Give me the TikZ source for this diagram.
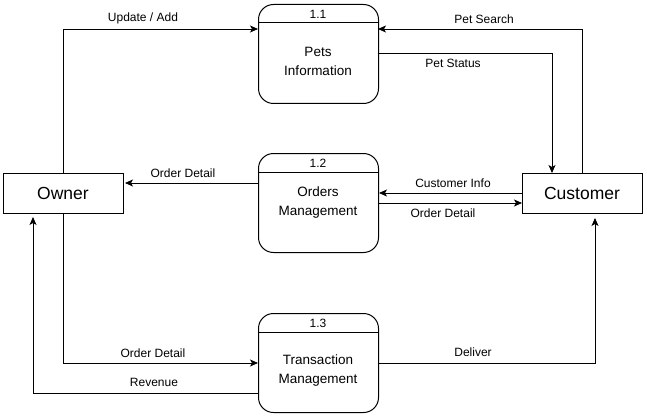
\documentclass[tikz,border=0pt]{standalone}
\usepackage{fontspec}
\setmainfont{Liberation Sans}
\usetikzlibrary{arrows.meta}
\tikzset{
  proc/.style={draw, line width=1pt, rounded corners=15pt, minimum width=120pt, minimum height=99pt, inner sep=0pt},
  ent/.style={draw, line width=0.8pt, minimum width=120pt, minimum height=40pt, inner sep=0pt, font=\fontsize{17.5}{20}\selectfont},
  ptext/.style={align=center, font=\fontsize{13.5}{19}\selectfont},
  lbl/.style={font=\fontsize{12}{14}\selectfont, inner sep=0pt},
  flow/.style={line width=0.8pt, -{Stealth[length=8pt,width=7pt,inset=2pt]}},
}
\begin{document}
\begin{tikzpicture}[x=1pt,y=-1pt]
\useasboundingbox (0,0) rectangle (647,417);
% processes
\foreach \n/\y/\num in {p1/4/1.1, p2/153/1.2, p3/313/1.3}{
  \node[proc, anchor=north west] (\n) at (258,\y) {};
  \draw[line width=1pt] (258,\y+19) -- (378,\y+19);
  \node[lbl] (\n num) at (318,\y+10) {\num};
}
\node[ptext] (p1t) at (318,61) {Pets\\Information};
\node[ptext] (p2t) at (318,203) {Orders\\Management};
\node[ptext] (p3t) at (318,371) {Transaction\\Management};
% entities
\node[ent] (own) at (63,193) {Owner};
\node[ent] (cus) at (582,193) {Customer};
% coordinates
\coordinate (c1) at (63,29);
\coordinate (c1e) at (258,29);
\coordinate (c2) at (582,29);
\coordinate (c2e) at (378,29);
\coordinate (c3s) at (378,53);
\coordinate (c3) at (552,53);
\coordinate (c3e) at (552,173);
\coordinate (c4s) at (258,183);
\coordinate (c4e) at (125,183);
\coordinate (c5s) at (522,193);
\coordinate (c5e) at (379,193);
\coordinate (c6s) at (378,203);
\coordinate (c6e) at (522,203);
\coordinate (c7) at (63,363);
\coordinate (c7e) at (258,363);
\coordinate (c8s) at (258,393);
\coordinate (c8) at (33,393);
\coordinate (c8e) at (33,217);
\coordinate (c9s) at (378,363);
\coordinate (c9) at (595,363);
\coordinate (c9e) at (595,218);
% flows
\draw[flow] (own.north -| c1) -- (c1) -- (c1e);
\draw[flow] (cus.north -| c2) -- (c2) -- (c2e);
\draw[flow] (c3s) -- (c3) -- (c3e);
\draw[flow] (c4s) -- (c4e);
\draw[flow] (c5s) -- (c5e);
\draw[flow] (c6s) -- (c6e);
\draw[flow] (own.south -| c7) -- (c7) -- (c7e);
\draw[flow] (c8s) -- (c8) -- (c8e);
\draw[flow] (c9s) -- (c9) -- (c9e);
% labels
\node[lbl] (l1) at (143,18) {Update / Add};
\node[lbl] (l2) at (484,19) {Pet Search};
\node[lbl] (l3) at (453,63) {Pet Status};
\node[lbl] (l4) at (183,173) {Order Detail};
\node[lbl] (l5) at (453,183) {Customer Info};
\node[lbl] (l6) at (443,213) {Order Detail};
\node[lbl] (l7) at (153,353) {Order Detail};
\node[lbl] (l8) at (154,382) {Revenue};
\node[lbl] (l9) at (473,352) {Deliver};
\end{tikzpicture}
\end{document}
